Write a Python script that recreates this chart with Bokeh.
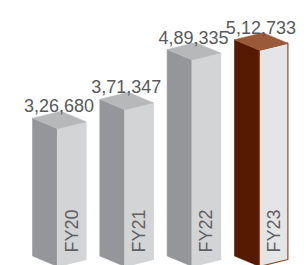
import math
from bokeh.plotting import figure
from bokeh.models import Range1d, ColumnDataSource
from bokeh.core.properties import value
from bokeh.embed import file_html
from bokeh.resources import INLINE

# ---- data ----
categories = ["FY20", "FY21", "FY22", "FY23"]
values = [326680, 371347, 489335, 512733]
value_labels = ["3,26,680", "3,71,347", "4,89,335", "5,12,733"]

# ---- layout constants (pixels) ----
W, H = 306, 265
PX_X = 67.3          # px per category step
PX_Y = 42.2e-5       # px per value unit
BASE_PX = 266        # baseline (front bottom corner) distance from frame top
FRONT0_PX = 57       # first bar front edge from frame left

LW = 25 / PX_X       # left face width
RW = 28.5 / PX_X     # right face width
A = 10.5 / PX_Y      # rise of left corner
B = 7 / PX_Y         # rise of right corner

x0 = -FRONT0_PX / PX_X
x_range = Range1d(x0, x0 + W / PX_X)
y_range = Range1d((BASE_PX - H) / PX_Y, BASE_PX / PX_Y)

gray_left, gray_top, gray_right = "#949699", "#b6b8ba", "#d2d4d5"
hl_left, hl_top, hl_right, hl_edge = "#561a02", "#9a5a3a", "#e4e5e6", "#8a4a2c"

p = figure(width=W, height=H, x_range=x_range, y_range=y_range,
           output_backend="svg", toolbar_location=None,
           x_axis_location=None, y_axis_location=None,
           min_border=0, outline_line_color=None)
p.grid.visible = False
p.background_fill_color = "white"
p.border_fill_color = "white"

left_xs, left_ys, right_xs, right_ys, top_xs, top_ys = [], [], [], [], [], []
lc, rc, tc, rl = [], [], [], []
n = len(categories)
for i, v in enumerate(values):
    xF = i
    xL = i - LW
    xR = i + RW
    left_xs.append([xL, xF, xF, xL]); left_ys.append([A, 0, v, v + A])
    right_xs.append([xF, xR, xR, xF]); right_ys.append([0, B, v + B, v])
    top_xs.append([xL, xF, xR, xL + RW]); top_ys.append([v + A, v, v + B, v + A + B])
    hl = (i == n - 1)
    lc.append(hl_left if hl else gray_left)
    rc.append(hl_right if hl else gray_right)
    tc.append(hl_top if hl else gray_top)
    rl.append(hl_edge if hl else gray_right)

p.patches(left_xs, left_ys, fill_color=lc, line_color=lc, line_width=0.5)
p.patches(right_xs, right_ys, fill_color=rc, line_color=rl, line_width=1.2)
p.patches(top_xs, top_ys, fill_color=tc, line_color=tc, line_width=0.5)

# value labels above bars
lab_src = ColumnDataSource(dict(
    x=[i + 1.5 / PX_X for i in range(n)],
    y=[v + 23 / PX_Y for v in values],
    t=value_labels))
p.text(x="x", y="y", text="t", source=lab_src,
       text_font=value("Liberation Sans"), text_font_size="18px",
       text_color="#58595b", text_align="center", text_baseline="alphabetic")

# category labels, rotated inside the right face
cat_src = ColumnDataSource(dict(
    x=[i + RW / 2 for i in range(n)],
    y=[(BASE_PX - 252) / PX_Y] * n,
    t=categories))
p.text(x="x", y="y", text="t", source=cat_src, angle=math.pi / 2,
       text_font=value("Liberation Sans"), text_font_size="18px",
       text_color="#5f6062", text_align="left", text_baseline="middle")

open("out.html", "w").write(file_html(p, INLINE))
